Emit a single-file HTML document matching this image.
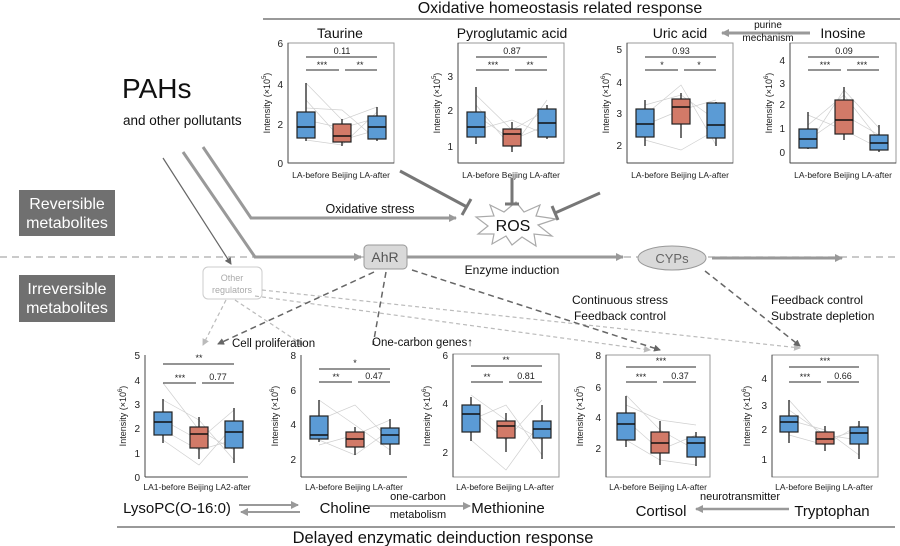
<!DOCTYPE html>
<html><head><meta charset="utf-8"><style>
html,body{margin:0;padding:0;background:#fff;}
svg{display:block;font-family:"Liberation Sans",sans-serif;}
.bl{fill:#5b9bd5;stroke:#222;stroke-width:1.2}
.rd{fill:#d27a68;stroke:#222;stroke-width:1.2}
.md{stroke:#111;stroke-width:1.4}
.wk{stroke:#222;stroke-width:1.3}
.fr{fill:none;stroke:#999;stroke-width:1}
.ax{stroke:#444;stroke-width:1}
.tk{font-size:10px;fill:#222;text-anchor:end}
.xl{font-size:8.5px;fill:#222;text-anchor:middle}
.il{font-size:9px;fill:#222;text-anchor:middle}
.sb{stroke:#555;stroke-width:1.2}
.st{font-size:9px;fill:#222;text-anchor:middle}
.pr{fill:none;stroke:#d0d0d0;stroke-width:0.7}
.ti{font-size:14px;fill:#111;text-anchor:middle}
.lb{font-size:15px;fill:#111;text-anchor:middle}
.sm{font-size:11px;fill:#111;text-anchor:middle}
</style></head><body>
<svg width="900" height="546" viewBox="0 0 900 546" xmlns="http://www.w3.org/2000/svg">
<defs>
<marker id="ag" markerWidth="8" markerHeight="8" refX="7" refY="4" orient="auto" markerUnits="userSpaceOnUse"><path d="M0,0 L8,4 L0,8 z" fill="#999"/></marker>
<marker id="ad" markerWidth="7" markerHeight="7" refX="6" refY="3.5" orient="auto" markerUnits="userSpaceOnUse"><path d="M0,0 L7,3.5 L0,7 z" fill="#666"/></marker>
<marker id="al" markerWidth="7" markerHeight="7" refX="6" refY="3.5" orient="auto" markerUnits="userSpaceOnUse"><path d="M0,0 L7,3.5 L0,7 z" fill="#bbb"/></marker>
</defs>

<!-- top header -->
<text x="560" y="13" font-size="16" text-anchor="middle" fill="#111">Oxidative homeostasis related response</text>
<line x1="263" y1="19" x2="900" y2="19" stroke="#999" stroke-width="2"/>

<!-- PAHs -->
<text x="122" y="98" font-size="28" fill="#111">PAHs</text>
<text x="123" y="125" font-size="13.5" fill="#111">and other pollutants</text>

<!-- left labels -->
<rect x="19" y="190" width="96" height="46" fill="#707070"/>
<text x="67" y="209" font-size="16" fill="#fff" text-anchor="middle">Reversible</text>
<text x="67" y="228" font-size="16" fill="#fff" text-anchor="middle">metabolites</text>
<rect x="19" y="275" width="96" height="47" fill="#707070"/>
<text x="67" y="294" font-size="16" fill="#fff" text-anchor="middle">Irreversible</text>
<text x="67" y="313" font-size="16" fill="#fff" text-anchor="middle">metabolites</text>

<!-- dashed divider -->
<line x1="0" y1="257" x2="900" y2="257" stroke="#aaa" stroke-width="1.3" stroke-dasharray="7,5"/>

<!-- PAH lines -->
<line x1="163" y1="158" x2="231" y2="264" stroke="#666" stroke-width="1.2" marker-end="url(#ad)"/>
<polyline points="183,152 255,257 361,257" fill="none" stroke="#999" stroke-width="3" marker-end="url(#ag)"/>
<polyline points="203,147 251,218 456,218" fill="none" stroke="#999" stroke-width="3" marker-end="url(#ag)"/>
<text x="370" y="213" font-size="12.5" text-anchor="middle" fill="#111">Oxidative stress</text>

<!-- ROS star -->
<polygon points="516,202 524,212 540,205 536,216 556,219 538,225 552,236 534,234 536,246 522,237 512,245 506,236 492,244 494,234 478,234 488,226 476,217 494,216 490,205 504,212" fill="#fff" stroke="#aaa" stroke-width="1.2"/>
<text x="513" y="231" font-size="16" text-anchor="middle" fill="#111">ROS</text>
<!-- inhibition -->
<line x1="400" y1="171" x2="467" y2="207" stroke="#777" stroke-width="3"/>
<line x1="462" y1="215" x2="471" y2="199" stroke="#777" stroke-width="3"/>
<line x1="512" y1="178" x2="512" y2="204" stroke="#777" stroke-width="3"/>
<line x1="505" y1="204" x2="519" y2="204" stroke="#777" stroke-width="3"/>
<line x1="600" y1="193" x2="555" y2="213" stroke="#777" stroke-width="3"/>
<line x1="552" y1="206" x2="558" y2="220" stroke="#777" stroke-width="3"/>

<!-- AhR / CYPs -->
<rect x="364" y="245" width="43" height="24" rx="4" fill="#d9d9d9" stroke="#999"/>
<text x="385" y="262" font-size="14" text-anchor="middle" fill="#555">AhR</text>
<line x1="407" y1="257" x2="623" y2="257" stroke="#999" stroke-width="3" marker-end="url(#ag)"/>
<text x="512" y="274" font-size="12" text-anchor="middle" fill="#111">Enzyme induction</text>
<ellipse cx="672" cy="258" rx="34" ry="12" fill="#d9d9d9" stroke="#999"/>
<text x="672" y="263" font-size="13" text-anchor="middle" fill="#666">CYPs</text>
<line x1="712" y1="258" x2="842" y2="258" stroke="#999" stroke-width="3" marker-end="url(#ag)"/>

<!-- Other regulators -->
<rect x="203" y="267" width="59" height="32" rx="5" fill="#fff" stroke="#ccc"/>
<text x="232" y="281" font-size="9" text-anchor="middle" fill="#aaa">Other</text>
<text x="232" y="293" font-size="9" text-anchor="middle" fill="#aaa">regulators</text>

<!-- dashed arrows -->
<line x1="226" y1="300" x2="203" y2="345" stroke="#bbb" stroke-width="1.2" stroke-dasharray="4,3" marker-end="url(#al)"/>
<line x1="235" y1="300" x2="303" y2="345" stroke="#bbb" stroke-width="1.2" stroke-dasharray="4,3" marker-end="url(#al)"/>
<line x1="255" y1="296" x2="650" y2="350" stroke="#bbb" stroke-width="1.2" stroke-dasharray="4,3" marker-end="url(#al)"/>
<line x1="262" y1="290" x2="800" y2="348" stroke="#bbb" stroke-width="1.2" stroke-dasharray="4,3" marker-end="url(#al)"/>
<line x1="374" y1="272" x2="218" y2="344" stroke="#666" stroke-width="1.5" stroke-dasharray="6,4" marker-end="url(#ad)"/>
<line x1="386" y1="272" x2="373" y2="345" stroke="#666" stroke-width="1.5" stroke-dasharray="6,4"/>
<line x1="412" y1="270" x2="660" y2="350" stroke="#666" stroke-width="1.5" stroke-dasharray="6,4" marker-end="url(#ad)"/>
<line x1="705" y1="271" x2="800" y2="346" stroke="#666" stroke-width="1.5" stroke-dasharray="6,4" marker-end="url(#ad)"/>
<text x="232" y="347" font-size="11.5" fill="#111">Cell proliferation</text>
<text x="372" y="346" font-size="11.5" fill="#111">One-carbon genes↑</text>
<text x="620" y="304" font-size="12" text-anchor="middle" fill="#111">Continuous stress</text>
<text x="620" y="320" font-size="12" text-anchor="middle" fill="#111">Feedback control</text>
<text x="771" y="304" font-size="12" fill="#111">Feedback control</text>
<text x="771" y="320" font-size="12" fill="#111">Substrate depletion</text>

<!-- purine arrow -->
<line x1="810" y1="33" x2="722" y2="33" stroke="#999" stroke-width="3" marker-end="url(#ag)"/>
<text x="768" y="28" font-size="10" text-anchor="middle" fill="#111">purine</text>
<text x="768" y="41" font-size="10" text-anchor="middle" fill="#111">mechanism</text>

<!-- ========== TOP CHARTS ========== -->
<!-- Taurine L=288 -->
<text class="ti" x="340" y="38">Taurine</text>
<rect class="fr" x="288" y="43" width="106" height="120"/>
<line class="ax" x1="288" y1="43" x2="288" y2="163"/><line class="ax" x1="288" y1="163" x2="394" y2="163"/>
<text class="tk" x="283" y="47">6</text><text class="tk" x="283" y="88">4</text><text class="tk" x="283" y="128">2</text><text class="tk" x="283" y="167">0</text>
<text class="il" transform="translate(270,103) rotate(-90)">Intensity (×10<tspan font-size="6" dy="-4">5</tspan><tspan dy="4">)</tspan></text>
<polyline class="pr" points="306,83 342,120 377,107"/><polyline class="pr" points="306,100 342,140 377,130"/><polyline class="pr" points="306,120 342,128 377,118"/><polyline class="pr" points="306,140 342,145 377,112"/><polyline class="pr" points="306,108 342,110 377,140"/>
<line class="sb" x1="306" y1="57" x2="377" y2="57"/><text class="st" x="342" y="54">0.11</text>
<line class="sb" x1="306" y1="70" x2="339" y2="70"/><line class="sb" x1="345" y1="70" x2="377" y2="70"/><text class="st" x="322" y="68">***</text><text class="st" x="360" y="68">**</text>
<line class="wk" x1="306" y1="83" x2="306" y2="141"/><rect class="bl" x="297" y="112" width="18" height="26"/><line class="md" x1="297" y1="127" x2="315" y2="127"/>
<line class="wk" x1="342" y1="119" x2="342" y2="146"/><rect class="rd" x="333" y="124" width="18" height="18"/><line class="md" x1="333" y1="136" x2="351" y2="136"/>
<line class="wk" x1="377" y1="107" x2="377" y2="141"/><rect class="bl" x="368" y="116" width="18" height="23"/><line class="md" x1="368" y1="127" x2="386" y2="127"/>
<text class="xl" x="341" y="178">LA-before Beijing  LA-after</text>

<!-- Pyroglutamic L=458 -->
<text class="ti" x="512" y="38">Pyroglutamic acid</text>
<rect class="fr" x="458" y="43" width="106" height="120"/>
<line class="ax" x1="458" y1="43" x2="458" y2="163"/><line class="ax" x1="458" y1="163" x2="564" y2="163"/>
<text class="tk" x="453" y="80">3</text><text class="tk" x="453" y="114">2</text><text class="tk" x="453" y="150">1</text>
<text class="il" transform="translate(440,103) rotate(-90)">Intensity (×10<tspan font-size="6" dy="-4">5</tspan><tspan dy="4">)</tspan></text>
<polyline class="pr" points="476,95 512,130 547,110"/><polyline class="pr" points="476,115 512,140 547,125"/><polyline class="pr" points="476,130 512,120 547,135"/><polyline class="pr" points="476,105 512,148 547,100"/>
<line class="sb" x1="476" y1="57" x2="547" y2="57"/><text class="st" x="512" y="54">0.87</text>
<line class="sb" x1="476" y1="70" x2="509" y2="70"/><line class="sb" x1="515" y1="70" x2="547" y2="70"/><text class="st" x="493" y="68">***</text><text class="st" x="530" y="68">**</text>
<line class="wk" x1="476" y1="87" x2="476" y2="144"/><rect class="bl" x="467" y="112" width="18" height="25"/><line class="md" x1="467" y1="127" x2="485" y2="127"/>
<line class="wk" x1="512" y1="122" x2="512" y2="152"/><rect class="rd" x="503" y="129" width="18" height="17"/><line class="md" x1="503" y1="134" x2="521" y2="134"/>
<line class="wk" x1="547" y1="105" x2="547" y2="139"/><rect class="bl" x="538" y="109" width="18" height="28"/><line class="md" x1="538" y1="123" x2="556" y2="123"/>
<text class="xl" x="511" y="178">LA-before Beijing  LA-after</text>

<!-- Uric L=627 -->
<text class="ti" x="680" y="38">Uric acid</text>
<rect class="fr" x="627" y="43" width="106" height="120"/>
<line class="ax" x1="627" y1="43" x2="627" y2="163"/><line class="ax" x1="627" y1="163" x2="733" y2="163"/>
<text class="tk" x="622" y="53">5</text><text class="tk" x="622" y="86">4</text><text class="tk" x="622" y="117">3</text><text class="tk" x="622" y="149">2</text>
<text class="il" transform="translate(609,103) rotate(-90)">Intensity (×10<tspan font-size="6" dy="-4">6</tspan><tspan dy="4">)</tspan></text>
<polyline class="pr" points="645,105 681,95 716,120"/><polyline class="pr" points="645,125 681,110 716,100"/><polyline class="pr" points="645,140 681,150 716,130"/><polyline class="pr" points="645,115 681,85 716,145"/>
<line class="sb" x1="645" y1="57" x2="716" y2="57"/><text class="st" x="681" y="54">0.93</text>
<line class="sb" x1="645" y1="70" x2="678" y2="70"/><line class="sb" x1="684" y1="70" x2="716" y2="70"/><text class="st" x="662" y="68">*</text><text class="st" x="699" y="68">*</text>
<line class="wk" x1="645" y1="100" x2="645" y2="146"/><rect class="bl" x="636" y="109" width="18" height="28"/><line class="md" x1="636" y1="124" x2="654" y2="124"/>
<line class="wk" x1="681" y1="93" x2="681" y2="138"/><rect class="rd" x="672" y="99" width="18" height="25"/><line class="md" x1="672" y1="107" x2="690" y2="107"/>
<line class="wk" x1="716" y1="102" x2="716" y2="146"/><rect class="bl" x="707" y="103" width="18" height="35"/><line class="md" x1="707" y1="125" x2="725" y2="125"/>
<text class="xl" x="680" y="178">LA-before Beijing  LA-after</text>

<!-- Inosine L=790 -->
<text class="ti" x="843" y="38">Inosine</text>
<rect class="fr" x="790" y="43" width="106" height="120"/>
<line class="ax" x1="790" y1="43" x2="790" y2="163"/><line class="ax" x1="790" y1="163" x2="896" y2="163"/>
<text class="tk" x="785" y="64">4</text><text class="tk" x="785" y="87">3</text><text class="tk" x="785" y="108">2</text><text class="tk" x="785" y="132">1</text><text class="tk" x="785" y="156">0</text>
<text class="il" transform="translate(772,103) rotate(-90)">Intensity (×10<tspan font-size="6" dy="-4">6</tspan><tspan dy="4">)</tspan></text>
<polyline class="pr" points="808,125 844,95 879,140"/><polyline class="pr" points="808,140 844,115 879,135"/><polyline class="pr" points="808,115 844,130 879,148"/><polyline class="pr" points="808,145 844,90 879,128"/>
<line class="sb" x1="808" y1="57" x2="879" y2="57"/><text class="st" x="844" y="54">0.09</text>
<line class="sb" x1="808" y1="70" x2="841" y2="70"/><line class="sb" x1="847" y1="70" x2="879" y2="70"/><text class="st" x="825" y="68">***</text><text class="st" x="862" y="68">***</text>
<line class="wk" x1="808" y1="112" x2="808" y2="149"/><rect class="bl" x="799" y="129" width="18" height="19"/><line class="md" x1="799" y1="139" x2="817" y2="139"/>
<line class="wk" x1="844" y1="87" x2="844" y2="140"/><rect class="rd" x="835" y="100" width="18" height="34"/><line class="md" x1="835" y1="120" x2="853" y2="120"/>
<line class="wk" x1="879" y1="125" x2="879" y2="152"/><rect class="bl" x="870" y="135" width="18" height="15"/><line class="md" x1="870" y1="143" x2="888" y2="143"/>
<text class="xl" x="843" y="178">LA-before Beijing  LA-after</text>

<!-- ========== BOTTOM CHARTS (y 355-477) ========== -->
<!-- LysoPC L=145 -->
<line class="ax" x1="145" y1="355" x2="145" y2="477"/><line class="ax" x1="145" y1="477" x2="248" y2="477"/>
<text class="tk" x="140" y="359">5</text><text class="tk" x="140" y="384">4</text><text class="tk" x="140" y="408">3</text><text class="tk" x="140" y="432">2</text><text class="tk" x="140" y="457">1</text><text class="tk" x="140" y="481">0</text>
<text class="il" transform="translate(126,416) rotate(-90)">Intensity (×10<tspan font-size="6" dy="-4">6</tspan><tspan dy="4">)</tspan></text>
<polyline class="pr" points="163,383 199,430 234,450"/><polyline class="pr" points="163,420 199,440 234,410"/><polyline class="pr" points="163,440 199,465 234,425"/><polyline class="pr" points="163,400 199,420 234,460"/><polyline class="pr" points="163,430 199,450 234,440"/>
<line class="sb" x1="163" y1="364" x2="234" y2="364"/><text class="st" x="199" y="361">**</text>
<line class="sb" x1="163" y1="383" x2="196" y2="383"/><line class="sb" x1="202" y1="383" x2="234" y2="383"/><text class="st" x="180" y="381">***</text><text class="st" x="218" y="380" font-size="11">0.77</text>
<line class="wk" x1="163" y1="399" x2="163" y2="443"/><rect class="bl" x="154" y="412" width="18" height="23"/><line class="md" x1="154" y1="422" x2="172" y2="422"/>
<line class="wk" x1="199" y1="417" x2="199" y2="459"/><rect class="rd" x="190" y="427" width="18" height="21"/><line class="md" x1="190" y1="434" x2="208" y2="434"/>
<line class="wk" x1="234" y1="408" x2="234" y2="463"/><rect class="bl" x="225" y="421" width="18" height="27"/><line class="md" x1="225" y1="432" x2="243" y2="432"/>
<text class="xl" x="197" y="490">LA1-before Beijing  LA2-after</text>

<!-- Choline L=301 -->
<line class="ax" x1="301" y1="355" x2="301" y2="477"/><line class="ax" x1="301" y1="477" x2="407" y2="477"/>
<text class="tk" x="296" y="359" font-size="12">8</text><text class="tk" x="296" y="394" font-size="12">6</text><text class="tk" x="296" y="428" font-size="12">4</text><text class="tk" x="296" y="463" font-size="12">2</text>
<text class="il" transform="translate(278,416) rotate(-90)" font-size="10">Intensity (×10<tspan font-size="6" dy="-4">6</tspan><tspan dy="4">)</tspan></text>
<polyline class="pr" points="319,400 355,425 390,450"/><polyline class="pr" points="319,440 355,455 390,430"/><polyline class="pr" points="319,420 355,405 390,440"/><polyline class="pr" points="319,445 355,435 390,420"/>
<line class="sb" x1="319" y1="369" x2="390" y2="369"/><text class="st" x="355" y="366">*</text>
<line class="sb" x1="319" y1="382" x2="352" y2="382"/><line class="sb" x1="358" y1="382" x2="390" y2="382"/><text class="st" x="336" y="380">**</text><text class="st" x="374" y="379" font-size="11">0.47</text>
<line class="wk" x1="319" y1="400" x2="319" y2="442"/><rect class="bl" x="310" y="416" width="18" height="23"/><line class="md" x1="310" y1="435" x2="328" y2="435"/>
<line class="wk" x1="355" y1="427" x2="355" y2="455"/><rect class="rd" x="346" y="432" width="18" height="15"/><line class="md" x1="346" y1="439" x2="364" y2="439"/>
<line class="wk" x1="390" y1="419" x2="390" y2="455"/><rect class="bl" x="381" y="428" width="18" height="16"/><line class="md" x1="381" y1="435" x2="399" y2="435"/>
<text class="xl" x="354" y="490">LA-before Beijing  LA-after</text>

<!-- Methionine L=453 -->
<rect class="fr" x="453" y="354" width="106" height="123"/>
<line class="ax" x1="453" y1="354" x2="453" y2="477"/>
<text class="tk" x="448" y="359" font-size="12">6</text><text class="tk" x="448" y="407" font-size="12">4</text><text class="tk" x="448" y="456" font-size="12">2</text>
<text class="il" transform="translate(430,416) rotate(-90)" font-size="10">Intensity (×10<tspan font-size="6" dy="-4">6</tspan><tspan dy="4">)</tspan></text>
<polyline class="pr" points="471,395 506,420 542,440"/><polyline class="pr" points="471,440 506,470 542,420"/><polyline class="pr" points="471,420 506,405 542,455"/><polyline class="pr" points="471,410 506,440 542,400"/>
<line class="sb" x1="471" y1="366" x2="542" y2="366"/><text class="st" x="506" y="363">**</text>
<line class="sb" x1="471" y1="382" x2="503" y2="382"/><line class="sb" x1="509" y1="382" x2="542" y2="382"/><text class="st" x="487" y="380">**</text><text class="st" x="526" y="379" font-size="11">0.81</text>
<line class="wk" x1="471" y1="397" x2="471" y2="441"/><rect class="bl" x="462" y="405" width="18" height="27"/><line class="md" x1="462" y1="414" x2="480" y2="414"/>
<line class="wk" x1="506" y1="413" x2="506" y2="452"/><rect class="rd" x="497" y="421" width="18" height="17"/><line class="md" x1="497" y1="426" x2="515" y2="426"/>
<line class="wk" x1="542" y1="405" x2="542" y2="459"/><rect class="bl" x="533" y="421" width="18" height="17"/><line class="md" x1="533" y1="429" x2="551" y2="429"/>
<text class="xl" x="505" y="490">LA-before Beijing  LA-after</text>

<!-- Cortisol L=606 -->
<rect class="fr" x="606" y="355" width="104" height="122"/>
<line class="ax" x1="606" y1="355" x2="606" y2="477"/>
<text class="tk" x="601" y="359" font-size="12">8</text><text class="tk" x="601" y="391" font-size="12">6</text><text class="tk" x="601" y="421" font-size="12">4</text><text class="tk" x="601" y="452" font-size="12">2</text>
<text class="il" transform="translate(583,416) rotate(-90)" font-size="10">Intensity (×10<tspan font-size="6" dy="-4">5</tspan><tspan dy="4">)</tspan></text>
<polyline class="pr" points="626,395 660,430 696,450"/><polyline class="pr" points="626,420 660,450 696,435"/><polyline class="pr" points="626,440 660,460 696,465"/><polyline class="pr" points="626,405 660,420 696,425"/>
<line class="sb" x1="626" y1="367" x2="696" y2="367"/><text class="st" x="661" y="364">***</text>
<line class="sb" x1="626" y1="382" x2="657" y2="382"/><line class="sb" x1="663" y1="382" x2="696" y2="382"/><text class="st" x="641" y="380">***</text><text class="st" x="680" y="379" font-size="11">0.37</text>
<line class="wk" x1="626" y1="396" x2="626" y2="447"/><rect class="bl" x="617" y="413" width="18" height="27"/><line class="md" x1="617" y1="424" x2="635" y2="424"/>
<line class="wk" x1="660" y1="421" x2="660" y2="465"/><rect class="rd" x="651" y="432" width="18" height="21"/><line class="md" x1="651" y1="443" x2="669" y2="443"/>
<line class="wk" x1="696" y1="432" x2="696" y2="466"/><rect class="bl" x="687" y="437" width="18" height="20"/><line class="md" x1="687" y1="443" x2="705" y2="443"/>
<text class="xl" x="658" y="490">LA-before Beijing  LA-after</text>

<!-- Tryptophan L=772 -->
<rect class="fr" x="772" y="355" width="106" height="122"/>
<line class="ax" x1="772" y1="355" x2="772" y2="477"/>
<text class="tk" x="767" y="382">4</text><text class="tk" x="767" y="409">3</text><text class="tk" x="767" y="433">2</text><text class="tk" x="767" y="463">1</text>
<text class="il" transform="translate(750,416) rotate(-90)" font-size="10">Intensity (×10<tspan font-size="6" dy="-4">6</tspan><tspan dy="4">)</tspan></text>
<polyline class="pr" points="789,400 825,440 859,430"/><polyline class="pr" points="789,420 825,430 859,455"/><polyline class="pr" points="789,435 825,445 859,425"/><polyline class="pr" points="789,410 825,435 859,440"/>
<line class="sb" x1="789" y1="367" x2="859" y2="367"/><text class="st" x="825" y="364">***</text>
<line class="sb" x1="789" y1="382" x2="821" y2="382"/><line class="sb" x1="827" y1="382" x2="859" y2="382"/><text class="st" x="805" y="380">***</text><text class="st" x="843" y="379" font-size="11">0.66</text>
<line class="wk" x1="789" y1="400" x2="789" y2="443"/><rect class="bl" x="780" y="416" width="18" height="16"/><line class="md" x1="780" y1="422" x2="798" y2="422"/>
<line class="wk" x1="825" y1="426" x2="825" y2="451"/><rect class="rd" x="816" y="432" width="18" height="12"/><line class="md" x1="816" y1="439" x2="834" y2="439"/>
<line class="wk" x1="859" y1="421" x2="859" y2="459"/><rect class="bl" x="850" y="427" width="18" height="17"/><line class="md" x1="850" y1="433" x2="868" y2="433"/>
<text class="xl" x="824" y="490">LA-before Beijing  LA-after</text>

<!-- bottom metabolite labels -->
<text class="lb" x="177" y="513">LysoPC(O-16:0)</text>
<line x1="239" y1="505" x2="298" y2="505" stroke="#999" stroke-width="2" marker-end="url(#ag)"/>
<line x1="300" y1="512" x2="241" y2="512" stroke="#999" stroke-width="2" marker-end="url(#ag)"/>
<text class="lb" x="345" y="513">Choline</text>
<line x1="368" y1="506" x2="470" y2="506" stroke="#888" stroke-width="1.5" marker-end="url(#ag)"/>
<text class="sm" x="418" y="500">one-carbon</text>
<text class="sm" x="418" y="518">metabolism</text>
<text class="lb" x="508" y="513">Methionine</text>
<text class="lb" x="661" y="516">Cortisol</text>
<line x1="789" y1="509" x2="696" y2="509" stroke="#999" stroke-width="2.5" marker-end="url(#ag)"/>
<text class="sm" x="740" y="500">neurotransmitter</text>
<text class="lb" x="832" y="516">Tryptophan</text>

<line x1="117" y1="527" x2="895" y2="527" stroke="#999" stroke-width="2"/>
<text x="443" y="543" font-size="16.5" text-anchor="middle" fill="#111">Delayed enzymatic deinduction response</text>
</svg>
</body></html>
